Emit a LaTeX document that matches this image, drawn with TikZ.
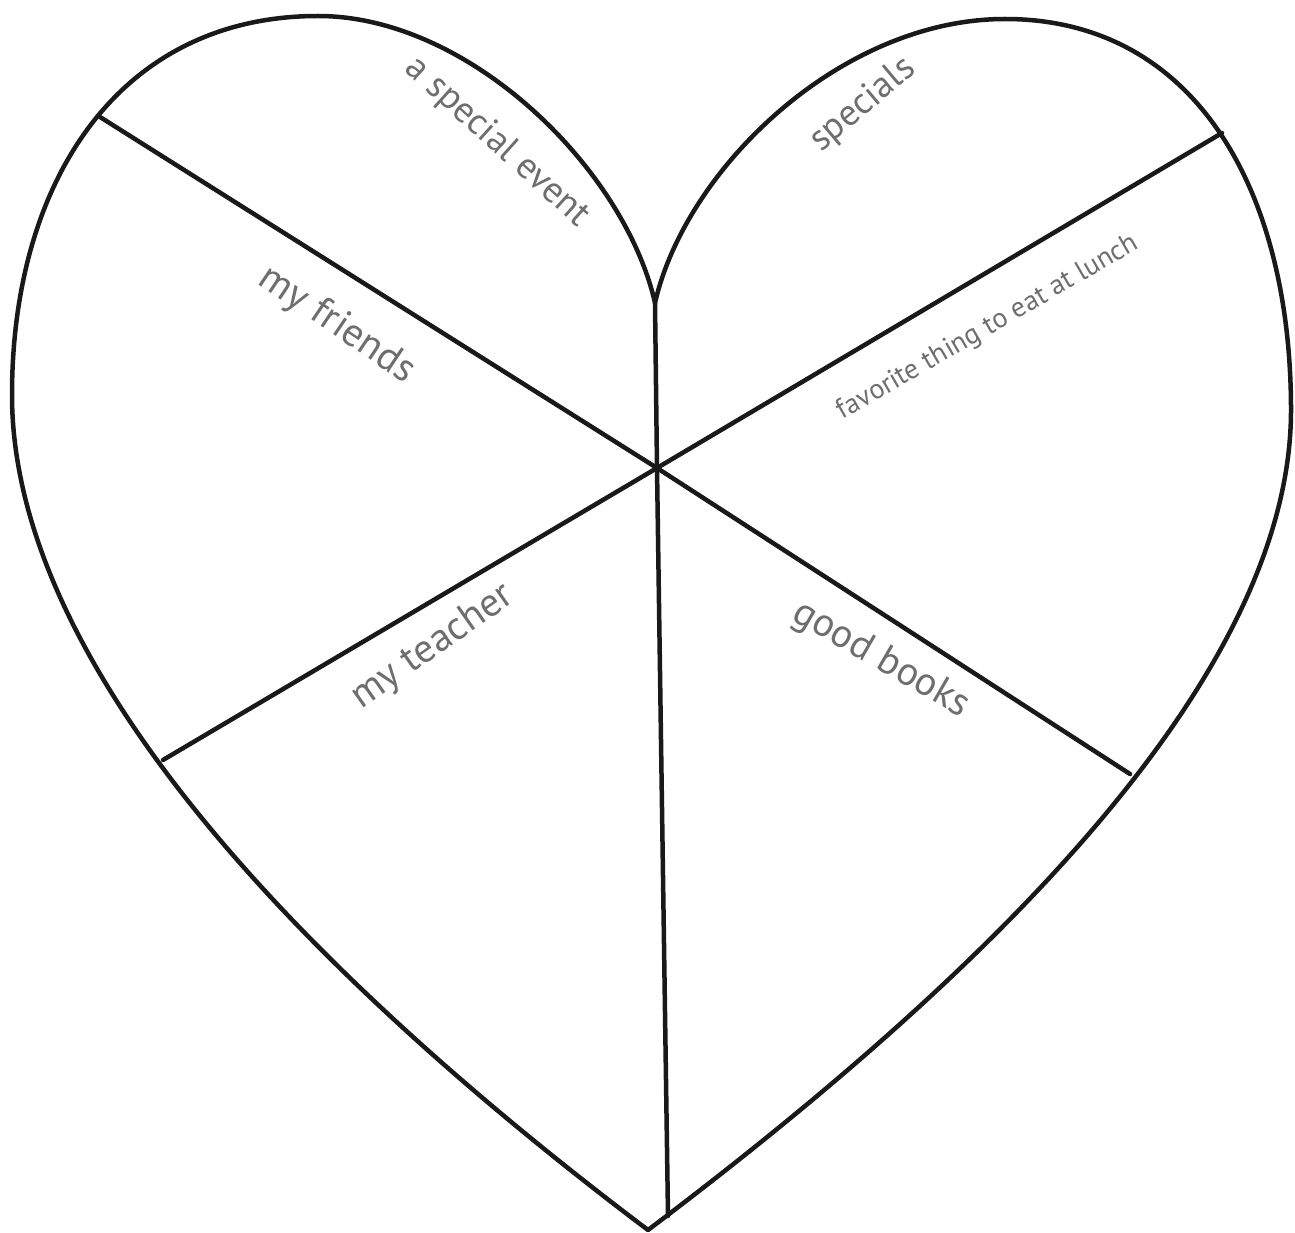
\documentclass[tikz,border=0pt]{standalone}
\usepackage{fontspec}
\setmainfont{PT Sans}
\definecolor{labelgray}{RGB}{110,110,110}
\definecolor{inkline}{RGB}{25,25,25}
\begin{document}
\begin{tikzpicture}[x=1pt,y=-1pt,
  outline/.style={draw=inkline,line width=4.5pt,line join=round,line cap=round},
  divider/.style={draw=inkline,line width=4.5pt,line cap=round},
  lbl/.style={text=labelgray,inner sep=0pt,font=\fontsize{40}{40}\selectfont},
  midlbl/.style={text=labelgray,inner sep=0pt,font=\fontsize{37}{37}\selectfont},
  smalllbl/.style={text=labelgray,inner sep=0pt,font=\fontsize{28}{28}\selectfont}]
\useasboundingbox (0,0) rectangle (1295,1233);
% key points
\coordinate (cusp) at (655,303);
\coordinate (bottom) at (648,1230);
\coordinate (ltop) at (318,16);
\coordinate (lside) at (12,395);
\coordinate (rtop) at (1005,19);
\coordinate (rside) at (1291,410);
\coordinate (O) at (657,468);
\coordinate (e1) at (100,117);
\coordinate (e2) at (1222,133);
\coordinate (e3) at (163,760);
\coordinate (e4) at (1130,774);
\coordinate (e5) at (668,1216);
% heart
\path[outline] (cusp) .. controls (625,170) and (470,16) .. (ltop)
  .. controls (120,16) and (12,180) .. (lside)
  .. controls (12,660) and (290,960) .. (bottom)
  .. controls (1006,960) and (1291,670) .. (rside)
  .. controls (1291,190) and (1195,19) .. (rtop)
  .. controls (840,19) and (685,170) .. (cusp);
% dividers
\draw[divider] (e1) -- (O) -- (e2);
\draw[divider] (e3) -- (O) -- (e4);
\draw[divider] (cusp) -- (O) -- (e5);
% labels
\node[midlbl,rotate=-42] (t1) at (497,142) {a special event};
\node[midlbl,rotate=40] (t2) at (863,105) {specials};
\node[lbl,rotate=-34] (t3) at (337,325) {my friends};
\node[smalllbl,rotate=30] (t4) at (988,328) {favorite thing to eat at lunch};
\node[lbl,rotate=35] (t5) at (433,647) {my teacher};
\node[lbl,rotate=-30] (t6) at (881,660) {good books};
\end{tikzpicture}
\end{document}
